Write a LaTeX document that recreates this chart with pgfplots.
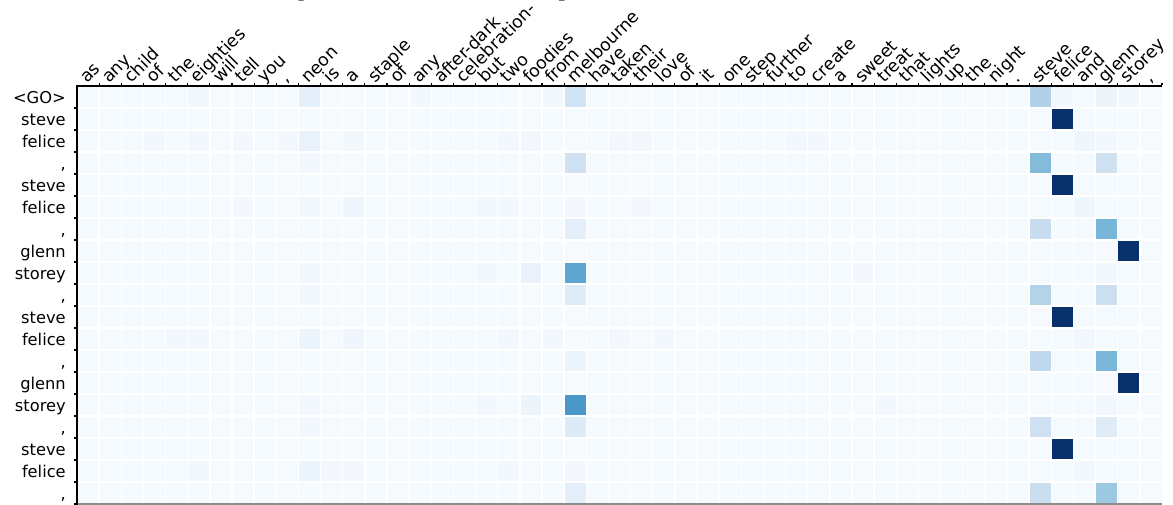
\documentclass[border=0pt]{standalone}
\usepackage{fontspec}
\setmainfont{DejaVu Sans}
\newfontfamily\timesfont{Liberation Serif}
\usepackage{pgfplots}
\usepackage{pgfplotstable}
\pgfplotsset{compat=1.18}

% 19 decoder steps (rows, top to bottom) x 49 source tokens (columns)
\pgfplotstableread[header=false]{
0.01 0.01 0.01 0.01 0.01 0.03 0.01 0.01 0.01 0.01 0.09 0.01 0.01 0.01 0.01 0.02 0.01 0.01 0.01 0.01 0.01 0.02 0.19 0.01 0.01 0.01 0.01 0.01 0.01 0.01 0.01 0.01 0.01 0.01 0.01 0.01 0.01 0.01 0.01 0.01 0.01 0.01 0.01 0.32 0.03 0.01 0.05 0.025 0.01
0.01 0.01 0.01 0.01 0.01 0.01 0.01 0.01 0.01 0.01 0.01 0.01 0.01 0.01 0.01 0.01 0.01 0.01 0.01 0.01 0.01 0.01 0.01 0.01 0.01 0.01 0.01 0.01 0.01 0.01 0.01 0.01 0.01 0.01 0.01 0.01 0.01 0.01 0.01 0.01 0.01 0.01 0.01 0.005 1.0 0.01 0.01 0.01 0.01
0.01 0.01 0.01 0.02 0.01 0.02 0.01 0.02 0.01 0.02 0.07 0.01 0.035 0.01 0.01 0.01 0.01 0.01 0.01 0.025 0.03 0.01 0.005 0.01 0.02 0.03 0.01 0.01 0.01 0.01 0.01 0.01 0.02 0.02 0.01 0.01 0.01 0.01 0.01 0.01 0.01 0.01 0.01 0.01 0.01 0.04 0.02 0.01 0.01
0.01 0.01 0.01 0.01 0.01 0.01 0.01 0.01 0.01 0.01 0.02 0.01 0.01 0.01 0.01 0.01 0.01 0.01 0.01 0.01 0.01 0.01 0.20 0.01 0.01 0.01 0.01 0.01 0.01 0.01 0.01 0.01 0.01 0.01 0.01 0.01 0.01 0.01 0.01 0.01 0.01 0.01 0.01 0.44 0.01 0.01 0.20 0.01 0.01
0.01 0.01 0.01 0.01 0.01 0.01 0.01 0.01 0.01 0.01 0.01 0.01 0.01 0.01 0.01 0.01 0.01 0.01 0.01 0.01 0.01 0.01 0.01 0.01 0.01 0.01 0.01 0.01 0.01 0.01 0.01 0.01 0.01 0.01 0.01 0.01 0.01 0.01 0.01 0.01 0.01 0.01 0.01 0.005 1.0 0.01 0.01 0.01 0.01
0.01 0.01 0.01 0.01 0.01 0.01 0.01 0.02 0.01 0.01 0.035 0.01 0.045 0.01 0.01 0.01 0.01 0.01 0.025 0.02 0.01 0.01 0.02 0.01 0.01 0.02 0.01 0.01 0.01 0.01 0.01 0.01 0.01 0.01 0.01 0.01 0.01 0.01 0.01 0.01 0.01 0.01 0.01 0.01 0.01 0.045 0.01 0.01 0.01
0.01 0.01 0.01 0.01 0.01 0.01 0.01 0.01 0.01 0.01 0.01 0.01 0.01 0.01 0.01 0.01 0.01 0.01 0.01 0.01 0.01 0.01 0.10 0.01 0.01 0.01 0.01 0.01 0.01 0.01 0.01 0.01 0.01 0.01 0.01 0.01 0.01 0.01 0.01 0.01 0.01 0.01 0.01 0.24 0.01 0.01 0.47 0.01 0.01
0.01 0.01 0.01 0.01 0.01 0.01 0.01 0.01 0.01 0.01 0.01 0.01 0.01 0.01 0.01 0.01 0.01 0.01 0.01 0.01 0.01 0.01 0.01 0.01 0.01 0.01 0.01 0.01 0.01 0.01 0.01 0.01 0.01 0.01 0.01 0.01 0.01 0.01 0.01 0.01 0.01 0.01 0.01 0.01 0.01 0.01 0.005 1.0 0.01
0.01 0.01 0.01 0.01 0.01 0.01 0.01 0.01 0.01 0.01 0.03 0.01 0.01 0.01 0.01 0.01 0.01 0.01 0.02 0.01 0.07 0.01 0.54 0.01 0.01 0.01 0.01 0.01 0.01 0.01 0.01 0.01 0.01 0.01 0.01 0.02 0.01 0.01 0.01 0.01 0.01 0.01 0.01 0.01 0.01 0.01 0.03 0.01 0.01
0.01 0.01 0.01 0.01 0.01 0.01 0.01 0.01 0.01 0.01 0.02 0.01 0.01 0.01 0.01 0.01 0.01 0.01 0.01 0.01 0.01 0.01 0.12 0.01 0.01 0.01 0.01 0.01 0.01 0.01 0.01 0.01 0.01 0.01 0.01 0.01 0.01 0.01 0.01 0.01 0.01 0.01 0.01 0.31 0.01 0.01 0.22 0.01 0.01
0.01 0.01 0.01 0.01 0.01 0.01 0.01 0.01 0.01 0.01 0.01 0.01 0.01 0.01 0.01 0.01 0.01 0.01 0.01 0.01 0.01 0.01 0.01 0.01 0.01 0.01 0.01 0.01 0.01 0.01 0.01 0.01 0.01 0.01 0.01 0.01 0.01 0.01 0.01 0.01 0.01 0.01 0.01 0.005 1.0 0.01 0.01 0.01 0.01
0.01 0.01 0.01 0.01 0.02 0.025 0.01 0.01 0.01 0.01 0.05 0.01 0.045 0.01 0.01 0.01 0.01 0.01 0.01 0.025 0.01 0.025 0.01 0.01 0.02 0.01 0.02 0.01 0.01 0.01 0.01 0.01 0.01 0.01 0.01 0.01 0.01 0.01 0.01 0.01 0.01 0.01 0.01 0.01 0.01 0.03 0.01 0.01 0.01
0.01 0.01 0.01 0.01 0.01 0.01 0.01 0.01 0.01 0.01 0.01 0.01 0.01 0.01 0.01 0.01 0.01 0.01 0.01 0.01 0.01 0.01 0.06 0.01 0.01 0.01 0.01 0.01 0.01 0.01 0.01 0.01 0.01 0.01 0.01 0.01 0.01 0.01 0.01 0.01 0.01 0.01 0.01 0.27 0.01 0.01 0.46 0.01 0.01
0.01 0.01 0.01 0.01 0.01 0.01 0.01 0.01 0.01 0.01 0.01 0.01 0.01 0.01 0.01 0.01 0.01 0.01 0.01 0.01 0.01 0.01 0.01 0.01 0.01 0.01 0.01 0.01 0.01 0.01 0.01 0.01 0.01 0.01 0.01 0.01 0.01 0.01 0.01 0.01 0.01 0.01 0.01 0.01 0.01 0.01 0.005 1.0 0.01
0.01 0.01 0.01 0.01 0.01 0.01 0.01 0.01 0.01 0.01 0.025 0.01 0.01 0.01 0.01 0.01 0.01 0.01 0.02 0.01 0.05 0.01 0.60 0.01 0.01 0.01 0.01 0.01 0.01 0.01 0.01 0.01 0.01 0.01 0.01 0.01 0.02 0.01 0.01 0.01 0.01 0.01 0.01 0.01 0.01 0.01 0.03 0.01 0.01
0.01 0.01 0.01 0.01 0.01 0.01 0.01 0.01 0.01 0.01 0.02 0.01 0.01 0.01 0.01 0.01 0.01 0.01 0.01 0.01 0.01 0.01 0.13 0.01 0.01 0.01 0.01 0.01 0.01 0.01 0.01 0.01 0.01 0.01 0.01 0.01 0.01 0.01 0.01 0.01 0.01 0.01 0.01 0.21 0.01 0.01 0.12 0.01 0.01
0.01 0.01 0.01 0.01 0.01 0.01 0.01 0.01 0.01 0.01 0.01 0.01 0.01 0.01 0.01 0.01 0.01 0.01 0.01 0.01 0.01 0.01 0.01 0.01 0.01 0.01 0.01 0.01 0.01 0.01 0.01 0.01 0.01 0.01 0.01 0.01 0.01 0.01 0.01 0.01 0.01 0.01 0.01 0.005 1.0 0.01 0.01 0.01 0.01
0.01 0.01 0.01 0.01 0.01 0.02 0.01 0.01 0.01 0.01 0.05 0.03 0.03 0.01 0.01 0.01 0.01 0.01 0.01 0.025 0.01 0.01 0.02 0.01 0.01 0.01 0.01 0.01 0.01 0.01 0.01 0.01 0.01 0.01 0.01 0.01 0.01 0.01 0.01 0.01 0.01 0.01 0.01 0.01 0.01 0.03 0.01 0.01 0.01
0.01 0.01 0.01 0.01 0.01 0.01 0.01 0.01 0.01 0.01 0.01 0.01 0.01 0.01 0.01 0.01 0.01 0.01 0.01 0.01 0.01 0.01 0.10 0.01 0.01 0.01 0.01 0.01 0.01 0.01 0.01 0.01 0.01 0.01 0.01 0.01 0.01 0.01 0.01 0.01 0.01 0.01 0.01 0.23 0.01 0.01 0.38 0.01 0.01
}\attn

\begin{document}
\begin{tikzpicture}
\path[use as bounding box] (-57.75pt,-0.75pt) rectangle (822pt,378pt);
\clip (-57.75pt,-0.75pt) rectangle (822pt,378pt);
\node[anchor=base west, inner sep=0pt, font=\timesfont\fontsize{19.5pt}{22pt}\selectfont]
  at (-37.5pt,381pt) {decoder attention, showing the attention at each step of the decoder.};
\begin{axis}[
  at={(0pt,0pt)}, anchor=south west,
  scale only axis, width=813.75pt, height=313.5pt,
  xmin=-0.5, xmax=48.5, ymin=-0.5, ymax=18.5,
  axis x line*=top, axis y line*=left,
  axis line style={line width=1pt, black},
  axis on top,
  tick align=outside,
  major tick length=2.25pt, minor tick length=2.25pt,
  xtick={0,...,48},
  xticklabels={as,any,child,of,the,eighties,will,tell,you,{,},neon,is,a,staple,of,any,after-dark,celebration-,but,two,foodies,from,melbourne,have,taken,their,love,of,it,one,step,further,to,create,a,sweet,treat,that,lights,up,the,night,.,steve,felice,and,glenn,storey,{,}},
  minor xtick={0.5,1.5,...,48.5},
  major x tick style={draw=none},
  minor x tick style={black, line width=0.8pt},
  ytick={-0.5,0.5,...,17.5},
  yticklabels={{,},felice,steve,{,},storey,glenn,{,},felice,steve,{,},storey,glenn,{,},felice,steve,{,},felice,steve,{<GO>}},
  major y tick style={black, line width=0.8pt},
  yticklabel style={font=\fontsize{12.2pt}{14pt}\selectfont, anchor=south east, inner sep=0pt, text depth=2.9pt, xshift=-6pt},
  xticklabel style={font=\fontsize{13pt}{15pt}\selectfont, xshift=1.5pt, yshift=-3pt, rotate=45, anchor=south west, inner sep=0pt, text depth=3pt},
  colormap={blues}{rgb255=(247,251,255) rgb255=(222,235,247) rgb255=(198,219,239) rgb255=(158,202,225) rgb255=(107,174,214) rgb255=(66,146,198) rgb255=(33,113,181) rgb255=(8,81,156) rgb255=(8,48,107)},
  point meta min=0, point meta max=1,
]
\pgfplotsinvokeforeach{0,...,48}{
  \addplot[scatter, only marks, mark=square*, mark size=8.3pt,
    mark options={line width=0pt},
    scatter/use mapped color={draw=mapped color, fill=mapped color},
    point meta=explicit]
    table[x expr=#1, y expr=18-\coordindex, meta index=#1] {\attn};
}
\end{axis}
% white cell separators and the frame, drawn over the cells
\foreach \i in {1,...,48} \draw[white, line width=1.1pt] ({\i*16.6071pt},0pt) -- ++(0pt,313.5pt);
\foreach \j in {1,...,18} \draw[white, line width=1.1pt] (0pt,{\j*16.5pt}) -- ++(813.75pt,0pt);
\draw[black!45, line width=1pt] (0pt,0pt) -- (813.75pt,0pt);
\draw[black, line width=1pt] (0pt,-0.5pt) -- (0pt,313.5pt) -- (813.75pt,313.5pt);
\end{tikzpicture}
\end{document}
